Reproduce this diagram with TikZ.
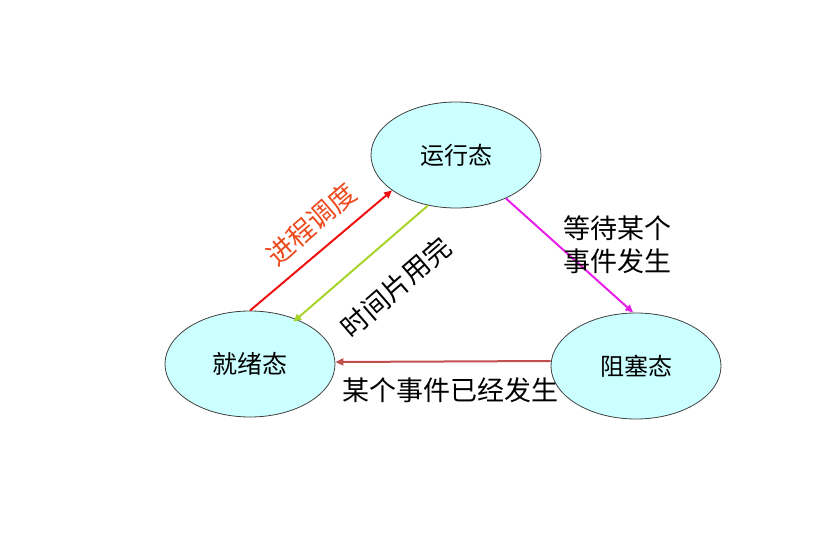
\documentclass[tikz,border=0pt]{standalone}
\usepackage{fontspec}
\newfontfamily\cjk{Noto Sans CJK SC}
\definecolor{stateblue}{HTML}{CCFFFF}
\definecolor{stateline}{HTML}{404040}
\definecolor{schedred}{HTML}{F01010}
\definecolor{labelred}{HTML}{EC4A1C}
\definecolor{timegreen}{HTML}{A8D42A}
\definecolor{waitpink}{HTML}{E81EE8}
\definecolor{wakebrown}{HTML}{C0504D}
\usetikzlibrary{shapes.geometric, arrows.meta}

\begin{document}
\begin{tikzpicture}[x=1pt, y=-1pt,
  state/.style={ellipse, draw=stateline, fill=stateblue, line width=0.8pt,
    minimum width=170pt, minimum height=106pt, inner sep=0pt},
  trans/.style={line width=2pt, -{Triangle[length=8pt, width=7pt]}},
  lbl/.style={font=\cjk\fontsize{27}{33}\selectfont}]
  \useasboundingbox (0,0) rectangle (828,533);

  \node[state, font=\cjk\fontsize{24}{28}\selectfont] (run) at (456,155) {运行态};
  \node[state, font=\cjk\fontsize{25}{28}\selectfont] (ready) at (250,364) {就绪态};
  \node[state, font=\cjk\fontsize{24}{28}\selectfont] (block) at (636,366) {阻塞态};

  \draw[trans, schedred] (ready.90) -- (run.209);
  \node[lbl, labelred, rotate=41] (schedlbl) at (311,224) {进程调度};

  \draw[trans, timegreen, shorten >=-4pt] (run.241) -- (ready.44);
  \node[lbl, rotate=41] (timelbl) at (396,287) {时间片用完};

  \draw[trans, waitpink] (run.319) -- (block.93);
  \node[lbl, align=center] (waitlbl) at (617,245) {等待某个\\事件发生};

  \draw[trans, wakebrown] ([yshift=5pt]block.west) -- ([yshift=2pt]ready.east);
  \node[lbl] (wakelbl) at (450,390) {某个事件已经发生};
\end{tikzpicture}
\end{document}
